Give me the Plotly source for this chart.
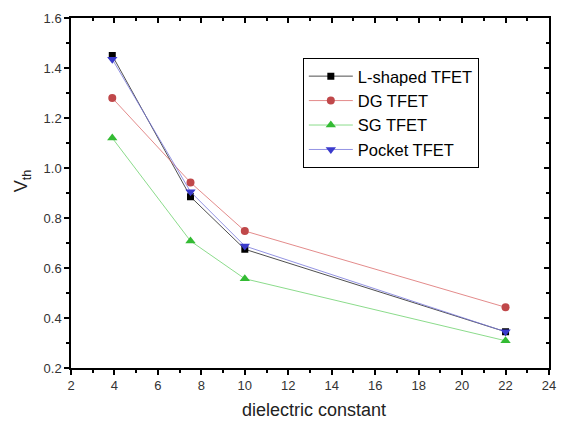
import plotly.graph_objects as go

k = [3.9, 7.5, 10, 22]
l_shaped = [1.45, 0.885, 0.675, 0.345]
dg = [1.28, 0.942, 0.748, 0.443]
sg = [1.12, 0.708, 0.557, 0.309]
pocket = [1.435, 0.905, 0.688, 0.345]

series = [
    ("L-shaped TFET", l_shaped, "rgba(60,60,60,0.9)", "black", "square", 7),
    ("DG TFET", dg, "rgba(220,110,110,0.8)", "#c0484a", "circle", 8),
    ("SG TFET", sg, "rgba(110,210,110,0.8)", "#33bb33", "triangle-up", 9),
    ("Pocket TFET", pocket, "rgba(120,120,220,0.8)", "#3a3acc", "triangle-down", 9),
]

fig = go.Figure()
for name, ys, lc, mc, sym, sz in series:
    fig.add_trace(go.Scatter(x=k, y=ys, name=name, mode="lines+markers",
                             line=dict(color=lc, width=1),
                             marker=dict(color=mc, symbol=sym, size=sz)))

font = "Liberation Sans, Arial, sans-serif"
common = dict(showgrid=False, zeroline=False, showline=True, linecolor="black",
              linewidth=1.5, tickwidth=1.5, tickcolor="black", automargin=False)
fig.update_layout(
    width=562, height=423,
    margin=dict(l=71, r=13, t=18, b=55),
    paper_bgcolor="white", plot_bgcolor="white",
    font=dict(family=font, size=13, color="#333"),
    showlegend=True,
    legend=dict(x=0.485, y=0.886, xanchor="left", yanchor="top",
                bordercolor="black", borderwidth=1, bgcolor="white",
                font=dict(size=16.5, color="black"), tracegroupgap=0,
                itemwidth=44),
    xaxis=dict(range=[2, 24], dtick=2, tick0=2, ticks="outside", ticklen=5,
               minor=dict(dtick=1, ticklen=3, ticks="outside", tickwidth=1.5, tickcolor="black"),
               tickfont=dict(size=13, color="#333"), **common),
    yaxis=dict(range=[0.2, 1.6], dtick=0.2, tick0=0.2, ticks="outside", ticklen=5,
               tickformat=".1f",
               minor=dict(dtick=0.1, ticklen=3, ticks="outside", tickwidth=1.5, tickcolor="black"),
               tickfont=dict(size=13, color="#333"), **common),
    xaxis2=dict(overlaying="x", side="top", matches="x", range=[2, 24], dtick=2, tick0=2,
                ticks="inside", ticklen=5, showticklabels=False,
                minor=dict(dtick=1, ticklen=3, ticks="inside", tickwidth=1.5, tickcolor="black"),
                **common),
    yaxis2=dict(overlaying="y", side="right", matches="y", range=[0.2, 1.6], dtick=0.2, tick0=0.2,
                ticks="inside", ticklen=5, showticklabels=False,
                minor=dict(dtick=0.1, ticklen=3, ticks="inside", tickwidth=1.5, tickcolor="black"),
                **common),
    annotations=[
        dict(text="dielectric constant", xref="paper", yref="paper", x=0.509, y=-0.085,
             xanchor="center", yanchor="top", showarrow=False,
             font=dict(size=18, color="#222")),
        dict(text="V<sub>th</sub>", xref="paper", yref="paper", x=-0.073, y=0.535,
             xanchor="right", yanchor="middle", textangle=-90, showarrow=False,
             font=dict(size=18, color="#222")),
    ],
)
fig.add_trace(go.Scatter(x=[2], y=[0.2], xaxis="x2", yaxis="y2", mode="markers",
                         marker=dict(opacity=0), showlegend=False, hoverinfo="skip"))
fig.write_html("out.html", config={"displayModeBar": False},
               post_script="document.body.style.margin='0';")
